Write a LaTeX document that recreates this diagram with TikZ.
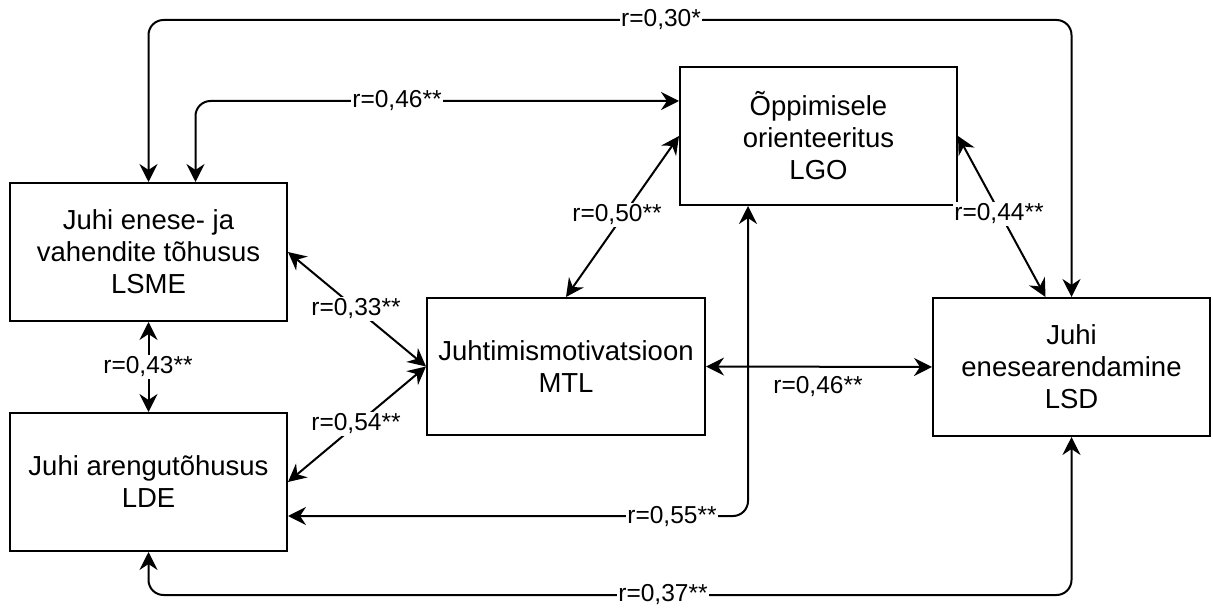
\documentclass[tikz,border=0pt]{standalone}
\usepackage{fontspec}
\setmainfont{Liberation Sans}
\usetikzlibrary{arrows.meta,calc}
\begin{document}
\begin{tikzpicture}[x=1pt,y=-1pt,
  box/.style={draw, line width=2pt, minimum width=277pt, minimum height=138pt, align=center, font=\fontsize{27.5}{32}\selectfont, inner sep=0pt},
  lbl/.style={fill=white, inner sep=1.5pt, font=\fontsize{24.5}{28}\selectfont},
  conn/.style={line width=2pt, {Stealth[length=18pt,width=18pt,inset=6pt]}-{Stealth[length=18pt,width=18pt,inset=6pt]}},
  ]
\useasboundingbox (0,0) rectangle (1213,609);
% boxes
\node[box] (lsme) at (148.5,252) {Juhi enese- ja\\vahendite tõhusus\\LSME};
\node[box] (lde) at (148.5,482) {Juhi arengutõhusus\\LDE};
\node[box, minimum width=278pt, minimum height=137pt] (mtl) at (566,366.5) {Juhtimismotivatsioon\\MTL};
\node[box] (lgo) at (818.5,136) {Õppimisele\\orienteeritus\\LGO};
\node[box] (lsd) at (1071.5,367) {Juhi\\enesearendamine\\LSD};
% helper coordinates
\coordinate (top) at (0,20);
\coordinate (bot) at (0,595);
\coordinate (mid46) at (0,101);
\coordinate (y55) at (0,516);
\coordinate (a46) at ($(lsme.north)+(47,0)$);
\coordinate (lsd44) at ($(lsd.north)+(-26,0)$);
\coordinate (lgo55) at ($(lgo.south)+(-70.5,0)$);
% connectors
\draw[conn, rounded corners=15pt] (lsme.north) -- (lsme.north |- top) -- (lsd.north |- top) -- (lsd.north);
\draw[conn, rounded corners=15pt] (a46) -- (a46 |- mid46) -- (lgo.west |- mid46);
\draw[conn] (mtl.north) -- (lgo.west);
\draw[conn] (lgo.east) -- (lsd44);
\draw[conn] (lsme.east) -- (mtl.west);
\draw[conn] (lde.east) -- (mtl.west);
\draw[conn] (lsme.south) -- (lde.north);
\draw[conn] (mtl.east) -- (lsd.west);
\draw[conn, rounded corners=15pt] (lgo55) -- (lgo55 |- y55) -- (lde.east |- y55);
\draw[conn, rounded corners=15pt] (lde.south) -- (lde.south |- bot) -- (lsd.south |- bot) -- (lsd.south);
% labels
\node[lbl] (l30) at (661,20) {r=0,30*};
\node[lbl] (l46a) at (397,101) {r=0,46**};
\node[lbl] (l50) at (617,215) {r=0,50**};
\node[lbl] (l44) at (999,214) {r=0,44**};
\node[lbl] (l33) at (356,309) {r=0,33**};
\node[lbl] (l54) at (356,424) {r=0,54**};
\node[lbl] (l43) at (148,367) {r=0,43**};
\node[lbl] (l46b) at (818,387) {r=0,46**};
\node[lbl] (l55) at (672,517) {r=0,55**};
\node[lbl] (l37) at (663,595) {r=0,37**};
\end{tikzpicture}
\end{document}
